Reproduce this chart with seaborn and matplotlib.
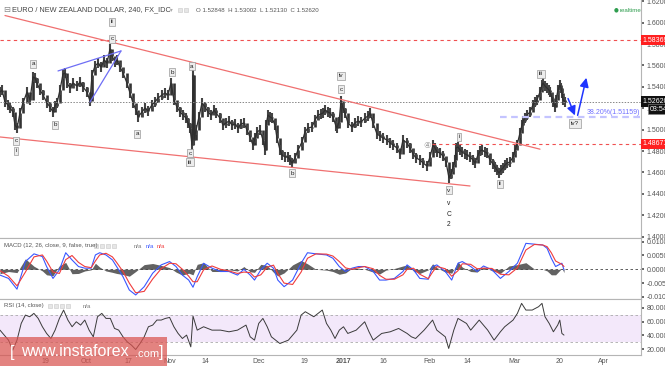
import numpy as np
import matplotlib
matplotlib.use('Agg')
import matplotlib.pyplot as plt
from matplotlib.patches import Rectangle
import matplotlib.transforms as mtransforms
import seaborn as sns

# ---- price path (sampled 4h closes, x in bar units) ----
bar_x = [0, 2, 5, 8, 10, 13, 15, 17, 20, 23, 27, 30, 33, 35, 37, 40, 43, 47, 50, 53,
         55, 57, 60, 63, 65, 67, 70, 73, 77, 80, 83, 87, 90, 92, 95, 98, 101, 104, 107, 110,
         112, 115, 117, 120, 123, 127, 130, 133, 136, 138, 142, 145, 148, 152, 155, 158, 162, 165, 168, 171,
         174, 177, 180, 183, 186, 188, 190, 192, 193, 194, 196, 199, 202, 205, 208, 211, 214, 216, 220, 223,
         226, 229, 232, 235, 238, 241, 244, 247, 250, 253, 255, 257, 260, 263, 265, 266, 268, 270, 272, 275,
         277, 280, 282, 285, 288, 290, 292, 295, 298, 302, 305, 308, 312, 315, 318, 321, 323, 325, 328, 330,
         333, 336, 337, 339, 341, 343, 345, 348, 352, 355, 358, 361, 365, 368, 370, 373, 377, 380, 383, 387,
         390, 393, 397, 400, 403, 407, 410, 413, 416, 420, 423, 427, 430, 433, 435, 437, 440, 443, 446, 449,
         451, 453, 455, 456, 458, 460, 462, 465, 467, 470, 473, 475, 478, 480, 482, 485, 487, 490, 493, 495,
         497, 499, 501, 503, 505, 507, 510, 513, 515, 517, 520, 522, 523, 525, 527, 530, 533, 535, 537, 540,
         542, 543, 545, 547, 549, 550, 552, 553, 555, 556, 558, 560, 561, 562, 563, 565]
close = [1.5352, 1.5371, 1.5259, 1.5231, 1.5203, 1.5165, 1.5044, 1.5016, 1.5156, 1.5250,
         1.5352, 1.5278, 1.5493, 1.5483, 1.5436, 1.5371, 1.5324, 1.5250, 1.5212, 1.5165,
         1.5222, 1.5250, 1.5371, 1.5521, 1.5530, 1.5436, 1.5390, 1.5436, 1.5408, 1.5446,
         1.5399, 1.5352, 1.5268, 1.5511, 1.5595, 1.5623, 1.5586, 1.5651, 1.5623, 1.5754,
         1.5689, 1.5633, 1.5651, 1.5586, 1.5530, 1.5436, 1.5343, 1.5250, 1.5184, 1.5119,
         1.5165, 1.5203, 1.5175, 1.5231, 1.5259, 1.5296, 1.5324, 1.5343, 1.5324, 1.5436,
         1.5278, 1.5212, 1.5165, 1.5137, 1.5109, 1.5063, 1.5016, 1.4857, 1.5511, 1.4904,
         1.4997, 1.5119, 1.5250, 1.5212, 1.5165, 1.5137, 1.5184, 1.5156, 1.5109, 1.5044,
         1.5063, 1.5081, 1.5044, 1.5053, 1.5016, 1.5053, 1.5063, 1.4997, 1.4932, 1.4857,
         1.4922, 1.4978, 1.4997, 1.4904, 1.4810, 1.5044, 1.5137, 1.5119, 1.5109, 1.5044,
         1.4922, 1.4810, 1.4764, 1.4745, 1.4745, 1.4717, 1.4689, 1.4736, 1.4810, 1.4885,
         1.4978, 1.5016, 1.5025, 1.5091, 1.5137, 1.5147, 1.5156, 1.5184, 1.5165, 1.5156,
         1.5119, 1.5034, 1.5016, 1.5072, 1.5268, 1.5203, 1.5156, 1.5063, 1.5025, 1.5063,
         1.5081, 1.5072, 1.5109, 1.5128, 1.5156, 1.5063, 1.4960, 1.4941, 1.4922, 1.4904,
         1.4876, 1.4857, 1.4829, 1.4773, 1.4904, 1.4876, 1.4829, 1.4773, 1.4736, 1.4717,
         1.4689, 1.4661, 1.4745, 1.4857, 1.4829, 1.4792, 1.4782, 1.4754, 1.4698, 1.4549,
         1.4586, 1.4651, 1.4717, 1.4829, 1.4838, 1.4810, 1.4792, 1.4773, 1.4764, 1.4745,
         1.4717, 1.4689, 1.4764, 1.4801, 1.4810, 1.4792, 1.4782, 1.4717, 1.4679, 1.4651,
         1.4623, 1.4595, 1.4623, 1.4642, 1.4670, 1.4689, 1.4698, 1.4745, 1.4810, 1.4857,
         1.4969, 1.5044, 1.5081, 1.5109, 1.5137, 1.5165, 1.5231, 1.5259, 1.5278, 1.5352,
         1.5418, 1.5436, 1.5408, 1.5390, 1.5371, 1.5352, 1.5296, 1.5259, 1.5212, 1.5278,
         1.5371, 1.5418, 1.5390, 1.5343, 1.5278, 1.5262]

# ---- MACD (12, 26, 9) ----
macd_x = [0, 8.5, 17, 25.4, 34, 42.4, 46.6, 53, 59.4, 65.7, 72, 78.5, 84.8, 91.2, 95.4, 99.7,
          106, 112.4, 116.6, 123, 129.3, 135.7, 144.2, 152.7, 161.2, 169.6, 176, 182.4, 188.7, 193,
          197.2, 203.6, 212, 220.5, 229, 237.5, 243.9, 250.2, 254.5, 260.8, 267.2, 273.5, 277.8, 284.1,
          292.6, 301.1, 307.5, 316, 326.5, 332.9, 339.3, 345.6, 352, 358.4, 364.7, 373.2, 379.6, 385.9,
          394.4, 402.9, 407.1, 413.5, 419.8, 428.3, 432.6, 436.8, 445.3, 451.7, 458, 462.3, 470.7, 477.1,
          483.5, 492, 500.4, 508.9, 517.4, 525.9, 534.4, 542.8, 547.1, 551.3, 555.6, 561.9, 564]
macd_line = [-0.0021, -0.0033, -0.0072, 0.0028, 0.0056, 0.0046, 0.0010, -0.0033, -0.0002, 0.0060,
             0.0034, 0.0010, 0.0004, 0.0004, 0.0052, 0.0060, 0.0052, 0.0034, 0.0010, -0.0027,
             -0.0075, -0.0093, -0.0063, -0.0014, 0.0016, 0.0028, 0.0010, -0.0021, -0.0039, -0.0065,
             -0.0027, 0.0022, 0.0004, -0.0008, -0.0008, -0.0021, 0.0000, -0.0021, -0.0039, -0.0002,
             0.0022, 0.0004, -0.0039, -0.0063, -0.0039, 0.0022, 0.0060, 0.0056, 0.0052, 0.0040,
             0.0010, -0.0008, 0.0004, 0.0010, 0.0010, -0.0008, -0.0039, -0.0039, -0.0033, -0.0008,
             0.0016, -0.0002, -0.0033, -0.0036, 0.0010, 0.0016, -0.0008, -0.0039, 0.0022, 0.0028,
             0.0010, -0.0008, 0.0012, -0.0002, -0.0033, -0.0008, 0.0022, 0.0094, 0.0091, 0.0088,
             0.0076, 0.0040, 0.0010, 0.0022, -0.0002]
signal_line = [-0.0005, -0.0025, -0.0060, -0.0010, 0.0045, 0.0052, 0.0030, -0.0010, -0.0015, 0.0035,
               0.0050, 0.0025, 0.0010, 0.0006, 0.0030, 0.0052, 0.0058, 0.0045, 0.0025, -0.0008,
               -0.0050, -0.0085, -0.0080, -0.0035, 0.0002, 0.0022, 0.0020, 0.0000, -0.0025, -0.0045,
               -0.0045, -0.0002, 0.0012, 0.0000, -0.0006, -0.0015, -0.0010, -0.0012, -0.0028, -0.0020,
               0.0008, 0.0015, -0.0015, -0.0050, -0.0055, -0.0010, 0.0040, 0.0056, 0.0055, 0.0048,
               0.0028, 0.0005, 0.0000, 0.0006, 0.0010, 0.0002, -0.0022, -0.0036, -0.0036, -0.0020,
               0.0000, 0.0004, -0.0018, -0.0034, -0.0010, 0.0010, 0.0002, -0.0025, -0.0005, 0.0020,
               0.0018, 0.0002, 0.0004, 0.0003, -0.0018, -0.0020, 0.0005, 0.0070, 0.0090, 0.0088,
               0.0082, 0.0060, 0.0030, 0.0018, 0.0010]

# ---- RSI (14) ----
rsi_x = [0, 4.2, 8.5, 12.7, 17, 21.2, 25.4, 29.7, 33.9, 38.2, 42.4, 46.6, 50.9, 55.1, 59.4, 63.6,
         67.9, 72.1, 76.3, 80.6, 84.8, 89.1, 93.3, 97.5, 101.8, 106, 110.3, 114.5, 118.7, 123, 127.2,
         131.5, 135.7, 140, 144.2, 148.4, 152.7, 156.9, 161.2, 165.4, 169.6, 173.9, 178.1, 182.4, 186.6,
         190.8, 193, 197.2, 203.6, 212, 220.5, 229, 237.5, 246, 250.2, 254.5, 258.7, 262.9, 267.2,
         271.4, 279.9, 288.4, 296.9, 301.1, 305.3, 313.8, 322.3, 326.5, 330.8, 335, 339.3, 343.5, 347.8,
         356.2, 364.7, 369, 373.2, 381.7, 390.2, 398.6, 407.1, 411.4, 415.6, 424.1, 432.6, 436.8, 445.3,
         448.7, 453.8, 458, 466.5, 470.7, 479.2, 487.7, 494.1, 500.4, 504.7, 513.1, 517.4, 521.6, 525.9,
         532.2, 538.6, 542, 545, 549.2, 553.4, 557.7, 559.8, 561.9, 564]
rsi = [47.5, 40.3, 33.0, 18.4, 33.0, 57.2, 69.3, 66.9, 71.8, 64.5, 52.4, 42.7, 35.4, 47.5, 64.5, 76.6,
       62.1, 52.4, 59.6, 54.8, 62.1, 47.5, 37.8, 66.9, 71.8, 64.5, 64.5, 50.0, 47.5, 37.8, 30.6,
       25.7, 19.4, 28.1, 37.8, 52.4, 54.8, 62.1, 62.1, 64.5, 65.9, 52.4, 42.7, 35.4, 40.3,
       23.3, 67.9, 47.5, 52.4, 47.5, 47.5, 45.1, 47.5, 54.8, 37.8, 33.0, 57.2, 64.5, 52.4,
       37.8, 28.1, 33.0, 47.5, 69.3, 74.2, 66.9, 76.6, 57.2, 47.5, 35.4, 47.5, 52.4, 42.7,
       47.5, 59.6, 45.1, 33.0, 42.7, 45.1, 49.9, 42.7, 37.8, 35.4, 47.5, 62.1, 47.5, 37.8,
       20.9, 47.5, 64.5, 57.2, 47.5, 62.1, 47.5, 33.0, 45.1, 52.4, 62.1, 71.8, 86.3, 76.6,
       76.6, 81.5, 86.3, 66.9, 57.2, 45.1, 54.8, 62.1, 42.7, 40.3]

# ---- axis ticks ----
price_ticks = [1.40, 1.42, 1.44, 1.46, 1.48, 1.50, 1.52, 1.54, 1.56, 1.58, 1.60, 1.62]
macd_ticks = [-0.010, -0.005, 0.0, 0.005, 0.010]
rsi_ticks = [20, 40, 60, 80]
date_pos = [45.8, 86, 128.5, 170, 205, 258.7, 304.5, 344, 383, 429.6, 467, 514.4, 560, 603]
date_labels = ['19', 'Oct', '17', 'Nov', '14', 'Dec', '19', '2017', '16', 'Feb', '14', 'Mar', '20', 'Apr']

# ---- levels and drawings ----
last_price = 1.52620
resistance = 1.58369
support = 1.48671
fib_level = 1.51159
upper_line_x, upper_line_p = [5, 540], [1.6067, 1.4818]
lower_line_x, lower_line_p = [0, 470], [1.4932, 1.4474]
wedge_top_x, wedge_top_p = [58, 121], [1.5549, 1.5736]
wedge_bot_x, wedge_bot_p = [90, 121], [1.5259, 1.5736]
proj_x, proj_p = [567, 576, 587], [1.5315, 1.5109, 1.5511]

wave_x = [33, 55, 16, 16, 112, 112, 137, 172, 192, 190, 190, 292, 341, 341, 459, 449, 500, 541, 575]
wave_p = [1.5614, 1.5044, 1.4895, 1.4801, 1.6007, 1.5848, 1.4960, 1.5539, 1.5595, 1.4782,
          1.4698, 1.4595, 1.5502, 1.5380, 1.4932, 1.4436, 1.4493, 1.5521, 1.5058]
wave_text = ['a', 'b', 'c', 'i', 'ii', 'c', 'a', 'b', 'a', 'c', 'iii', 'b', 'iv', 'c', 'i', 'v',
             'ii', 'iii', 'iv?']
degree_x = [449, 449, 449]
degree_p = [1.4306, 1.4212, 1.4114]
degree_text = ['v', 'C', '2']

sns.set_theme(style='white')
plt.rcParams['font.family'] = ['Liberation Sans', 'DejaVu Sans']

W, H = 665, 366
fig = plt.figure(figsize=(W / 100, H / 100), dpi=100)
right = 641 / W


def panel(top, bottom):
    return [0, 1 - bottom / H, right, (bottom - top) / H]


ax = fig.add_axes(panel(0, 238))
ax_macd = fig.add_axes(panel(238, 299.3), sharex=ax)
ax_rsi = fig.add_axes(panel(299.3, 355), sharex=ax)

grey = '#555555'
for a in (ax, ax_macd, ax_rsi):
    a.set_facecolor('white')
    a.yaxis.tick_right()
    a.tick_params(axis='y', labelsize=5, colors=grey, length=2, pad=2, right=True, left=False)
    a.tick_params(axis='x', length=0, labelbottom=False)
    a.spines['left'].set_visible(False)
    for s in ('top', 'right', 'bottom'):
        a.spines[s].set_color('#b5b5b5')
        a.spines[s].set_linewidth(0.8)
    a.set_xlim(0, 641)
ax.spines['top'].set_visible(False)

# ---- main price panel (candle-like bars between successive closes) ----
x = np.array(bar_x, dtype=float)
c = np.array(close)
ax.vlines(x[1:], np.minimum(c[:-1], c[1:]), np.maximum(c[:-1], c[1:]), color='#333333', lw=1.9)
ax.plot(x, c, ls='none', marker='|', ms=7, mew=1.5, color='#444444')
sns.lineplot(x=bar_x, y=close, ax=ax, color='#2e2e2e', lw=0.9, estimator=None, sort=False)

ax.axhline(resistance, color='#f05050', lw=0.8, ls=(0, (3, 3)))
ax.axhline(last_price, color='#888888', lw=0.7, ls=(0, (1.5, 1.5)))
ax.plot([432, 641], [support, support], color='#f05050', lw=0.8, ls=(0, (3, 3)))
ax.plot([500, 641], [fib_level, fib_level], color='#c4c4ff', lw=1.6, ls=(0, (3, 2)))
ax.text(587, fib_level + 0.0045, '38.20%(1.51159)', fontsize=5, color='#7070ff', va='center')

ax.plot(upper_line_x, upper_line_p, color='#f07070', lw=0.9)
ax.plot(lower_line_x, lower_line_p, color='#f07070', lw=0.9)
ax.plot(wedge_top_x, wedge_top_p, color='#6e6ef5', lw=0.9)
ax.plot(wedge_bot_x, wedge_bot_p, color='#6e6ef5', lw=0.9)

arrow_kw = dict(arrowstyle='-|>,head_length=0.45,head_width=0.22', color='#1f35ff', lw=1.1)
ax.annotate('', xy=(proj_x[1], proj_p[1]), xytext=(proj_x[0], proj_p[0]), arrowprops=arrow_kw)
ax.annotate('', xy=(proj_x[2], proj_p[2]), xytext=(proj_x[1] + 1, proj_p[1]), arrowprops=arrow_kw)

for wx, wp, wt in zip(wave_x, wave_p, wave_text):
    ax.text(wx, wp, wt, fontsize=4.6, ha='center', va='center', color='#222222', zorder=6,
            bbox=dict(boxstyle='square,pad=0.25', fc='#ececec', ec='#9a9a9a', lw=0.5))
for wx, wp, wt in zip(degree_x, degree_p, degree_text):
    ax.text(wx, wp, wt, fontsize=4.8, ha='center', va='center', color='#222222')
ax.text(427, 1.4848, '④', fontsize=6, ha='center', va='center', color='#9a9a9a',
        family=['DejaVu Sans', 'Noto Sans CJK SC'])

ax.set_ylim(1.39878, 1.62121)
ax.set_yticks(price_ticks)
ax.set_yticklabels([f'{v:.5f}' for v in price_ticks])

tr = mtransforms.blended_transform_factory(ax.transAxes, ax.transData)
for lvl, fc in ((resistance, '#ff2020'), (support, '#ff2020'), (last_price, '#111111')):
    ax.text(1.003, lvl, f'{lvl:.5f}', transform=tr, fontsize=5, color='white', va='center',
            ha='left', clip_on=False, zorder=10,
            bbox=dict(boxstyle='square,pad=0.25', fc=fc, ec='none'))
ax.text(1.013, 1.5193, '03:54', transform=tr, fontsize=5, color='white', va='center', ha='left',
        clip_on=False, zorder=10, bbox=dict(boxstyle='square,pad=0.2', fc='#111111', ec='#888888', lw=0.4))

# ---- MACD panel ----
mx = np.array(macd_x)
hist = np.array(macd_line) - np.array(signal_line)
ax_macd.fill_between(mx, 0, hist, color='#2e2e2e', lw=0, alpha=0.75)
ax_macd.axhline(0, color='#444444', lw=0.6, ls=(0, (3, 3)))
sns.lineplot(x=macd_x, y=macd_line, ax=ax_macd, color='#3a57ff', lw=0.8, estimator=None, sort=False)
sns.lineplot(x=macd_x, y=signal_line, ax=ax_macd, color='#f03c3c', lw=0.8, estimator=None, sort=False)
ax_macd.set_ylim(-0.01087, 0.01134)
ax_macd.set_yticks(macd_ticks)
ax_macd.set_yticklabels([f'{v:.5f}' for v in macd_ticks])
ax_macd.set_ylabel('')

# ---- RSI panel ----
ax_rsi.axhspan(30, 70, color='#f3e8fa', lw=0)
ax_rsi.axhline(70, color='#aaaaaa', lw=0.6, ls=(0, (3, 3)))
ax_rsi.axhline(30, color='#aaaaaa', lw=0.6, ls=(0, (3, 3)))
sns.lineplot(x=rsi_x, y=rsi, ax=ax_rsi, color='#3a3a3a', lw=0.7, estimator=None, sort=False)
ax_rsi.set_ylim(11.45, 92.2)
ax_rsi.set_yticks(rsi_ticks)
ax_rsi.set_yticklabels([f'{v:.5f}' for v in rsi_ticks])
ax_rsi.set_ylabel('')
ax_rsi.set_xticks(date_pos)
ax_rsi.set_xticklabels(date_labels)
ax_rsi.tick_params(axis='x', labelbottom=True, labelsize=5, colors=grey, pad=2.5)
for lab in ax_rsi.get_xticklabels():
    if lab.get_text() == '2017':
        lab.set_fontweight('bold')
ax_rsi.set_xlim(0, 641)


# ---- header texts ----
def ftext(px, py, s, **kw):
    fig.text(px / W, 1 - py / H, s, va='center', **kw)


ftext(3, 10, '⊟', fontsize=6, color='#888888', family=['DejaVu Sans'])
ftext(12, 10, 'EURO / NEW ZEALAND DOLLAR, 240, FX_IDC', fontsize=5.3, color='#444444')
ftext(170, 10, '▾', fontsize=4, color='#aaaaaa', family=['DejaVu Sans'])
ftext(196, 10, 'O 1.52848  H 1.53002  L 1.52130  C 1.52620', fontsize=4.4, color='#555555')
ftext(614, 10, '●', fontsize=4, color='#2e9d4e', family=['DejaVu Sans'])
ftext(620, 10, 'realtime', fontsize=4.4, color='#2e9d4e')
ftext(4, 246, 'MACD (12, 26, close, 9, false, true)', fontsize=4.3, color='#555555')
ftext(134, 246, 'n/a', fontsize=4.3, color='#777777')
ftext(146, 246, 'n/a', fontsize=4.3, color='#3a57ff')
ftext(157, 246, 'n/a', fontsize=4.3, color='#f03c3c')
ftext(4, 306, 'RSI (14, close)', fontsize=4.3, color='#555555')
ftext(83, 306, 'n/a', fontsize=4.3, color='#777777')
for bx, by in ((180, 10), (186, 10), (96, 246), (102, 246), (108, 246), (114, 246),
               (50, 306), (56, 306), (62, 306), (68, 306)):
    fig.patches.append(Rectangle(((bx - 2.2) / W, 1 - (by + 2.2) / H), 4.4 / W, 4.4 / H,
                                 transform=fig.transFigure, fc='#e6e6e6', ec='#c8c8c8', lw=0.4))

# ---- watermark ----
fig.patches.append(Rectangle((0, 0), 167 / W, 29 / H, transform=fig.transFigure,
                             fc='#d9534f', ec='none', alpha=0.72, zorder=20))
ftext(10, 353, '[', fontsize=12, color='white', zorder=21)
ftext(21, 352, 'www.instaforex', fontsize=11.5, color='white', zorder=21)
ftext(135, 354, '.com', fontsize=8, color='white', zorder=21)
ftext(159, 353, ']', fontsize=12, color='white', zorder=21)

fig.savefig('out.png', dpi=100, facecolor='white')
